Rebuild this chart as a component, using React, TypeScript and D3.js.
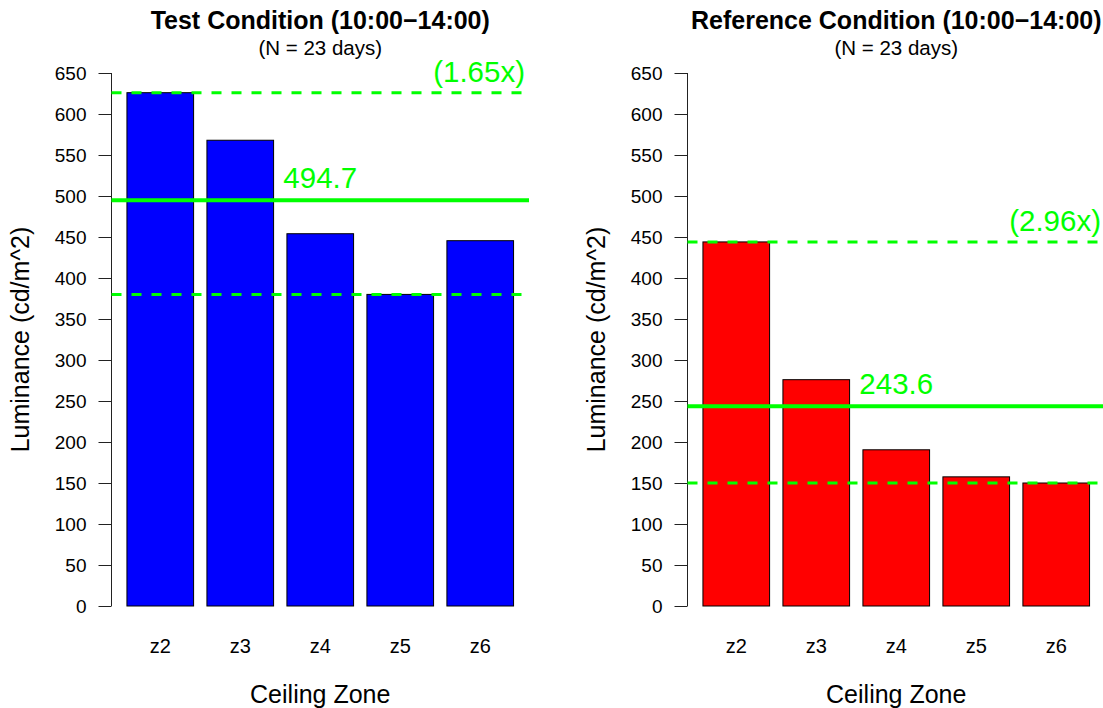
import * as d3 from 'd3'
import { useEffect, useRef } from 'react'

// ceiling zones and mean luminance per zone (cd/m^2)
const zones = ['z2', 'z3', 'z4', 'z5', 'z6']
const testValues = [626, 568, 454, 380, 445.5]
const refValues = [444, 276, 190.5, 157.5, 150]
const yTickValues = [0, 50, 100, 150, 200, 250, 300, 350, 400, 450, 500, 550, 600, 650]

const titles = ['Test Condition (10:00\u221214:00)', 'Reference Condition (10:00\u221214:00)']
const subtitle = '(N = 23 days)'
const barColors = ['#0000ff', '#ff0000']

const FONT = '"Liberation Sans", Arial, Helvetica, sans-serif'
const W = 1103, H = 708

export default function App() {
    const svgRef = useRef(null)

    useEffect(() => {
        const svg = d3.select(svgRef.current)
        svg.selectAll('*').remove()

        const y = d3.scaleLinear().domain([0, 650]).range([606, 73])

        const drawPanel = (values: number[], idx: number) => {
            const off = idx * 576
            const left = 111.5 + off, right = 529 + off
            const cx = (left + right) / 2
            const g = svg.append('g')

            const x = d3.scaleBand<string>()
                .domain(zones)
                .range([left, right])
                .paddingInner(1 / 6)
                .paddingOuter(0.193)

            // bars
            g.append('g').selectAll('rect')
                .data(values)
                .join('rect')
                    .attr('x', (d, i) => x(zones[i]))
                    .attr('y', d => y(d))
                    .attr('width', x.bandwidth())
                    .attr('height', d => y(0) - y(d))
                    .attr('fill', barColors[idx])
                    .attr('stroke', '#000')
                    .attr('stroke-width', 1)

            // y axis, R style
            const yAxis = d3.axisLeft(y).tickValues(yTickValues).tickSize(13).tickPadding(12)
            g.append('g')
                .attr('transform', `translate(${left},0)`)
                .call(yAxis)
                .call(a => a.select('.domain').attr('d', `M0,${y(0)}V${y(650)}`).attr('stroke', '#222'))
                .call(a => a.selectAll('.tick line').attr('stroke', '#222'))
                .call(a => a.selectAll('.tick text')
                    .style('font-family', FONT).style('font-size', '19px').attr('fill', '#000'))

            // zone labels
            g.append('g').selectAll('text')
                .data(zones)
                .join('text')
                    .attr('x', d => x(d) + x.bandwidth() / 2)
                    .attr('y', 653)
                    .attr('text-anchor', 'middle')
                    .style('font-family', FONT).style('font-size', '20px')
                    .text(d => d)

            g.append('text')
                .attr('x', cx).attr('y', 703)
                .attr('text-anchor', 'middle')
                .style('font-family', FONT).style('font-size', '25px')
                .text('Ceiling Zone')

            g.append('text')
                .attr('transform', `translate(${29 + off},${(y(0) + y(650)) / 2}) rotate(-90)`)
                .attr('text-anchor', 'middle')
                .style('font-family', FONT).style('font-size', '25px')
                .text('Luminance (cd/m^2)')

            g.append('text')
                .attr('x', cx).attr('y', 29)
                .attr('text-anchor', 'middle')
                .style('font-family', FONT).style('font-size', '25px').style('font-weight', 'bold')
                .text(titles[idx])

            g.append('text')
                .attr('x', cx).attr('y', 55)
                .attr('text-anchor', 'middle')
                .style('font-family', FONT).style('font-size', '20.5px')
                .text(subtitle)

            // mean and max/min reference lines
            const mean = d3.mean(values)
            const hi = d3.max(values), lo = d3.min(values)
            const green = '#00ff00'

            g.append('line')
                .attr('x1', left).attr('x2', right)
                .attr('y1', y(mean)).attr('y2', y(mean))
                .attr('stroke', green).attr('stroke-width', 4)

            g.selectAll('line.dash')
                .data([hi, lo])
                .join('line')
                    .attr('class', 'dash')
                    .attr('x1', left).attr('x2', right)
                    .attr('y1', d => y(d)).attr('y2', d => y(d))
                    .attr('stroke', green).attr('stroke-width', 3)
                    .attr('stroke-dasharray', '10,10')

            g.append('text')
                .attr('x', cx).attr('y', y(mean) - 12)
                .attr('text-anchor', 'middle')
                .attr('fill', green)
                .style('font-family', FONT).style('font-size', '29.5px')
                .text(mean.toFixed(1))

            g.append('text')
                .attr('x', right - 4).attr('y', y(hi) - 11)
                .attr('text-anchor', 'end')
                .attr('fill', green)
                .style('font-family', FONT).style('font-size', '29.5px')
                .text(`(${(hi / lo).toFixed(2)}x)`)
        }

        drawPanel(testValues, 0)
        drawPanel(refValues, 1)
    }, [])

    return (
        <svg ref={svgRef} width={W} height={H}
            style={{ position: 'absolute', left: 0, top: 0, background: '#fff' }} />
    )
}
